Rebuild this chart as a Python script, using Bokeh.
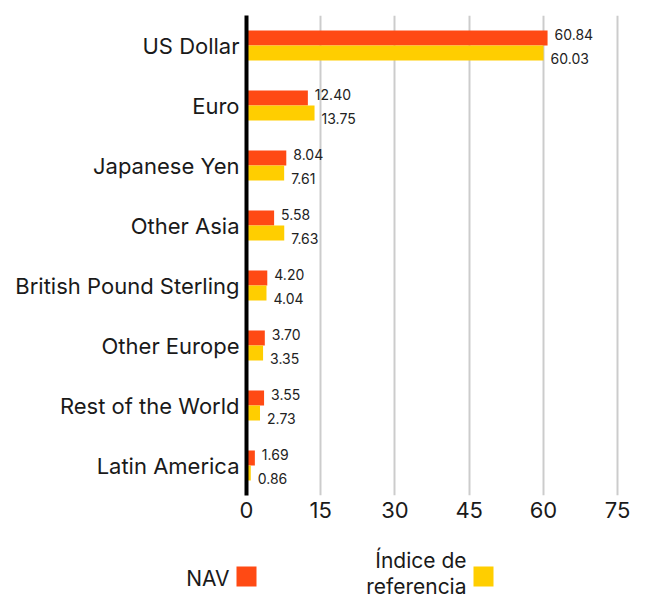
from bokeh.plotting import figure
from bokeh.layouts import column
from bokeh.models import ColumnDataSource, FactorRange, Range1d, FixedTicker
from bokeh.transform import dodge
from bokeh.core.properties import value
from bokeh.embed import file_html
from bokeh.resources import INLINE

categories = ["US Dollar", "Euro", "Japanese Yen", "Other Asia",
              "British Pound Sterling", "Other Europe", "Rest of the World", "Latin America"]
nav = [60.84, 12.40, 8.04, 5.58, 4.20, 3.70, 3.55, 1.69]
benchmark = [60.03, 13.75, 7.61, 7.63, 4.04, 3.35, 2.73, 0.86]
x_ticks = [0, 15, 30, 45, 60, 75]
series_names = ["NAV", "Índice de\nreferencia"]
colors = ["#FF4A14", "#FFCE00"]

FONT = "Inter"

src = ColumnDataSource(dict(
    cat=categories, nav=nav, bench=benchmark,
    nav_lbl=[f"{v:.2f}" for v in nav],
    bench_lbl=[f"{v:.2f}" for v in benchmark],
))

p = figure(width=646, height=540, output_backend="svg", toolbar_location=None,
           y_range=FactorRange(factors=list(reversed(categories))),
           x_range=Range1d(0, 77.6),
           min_border_left=246, min_border_right=16, min_border_top=15, min_border_bottom=45)
p.outline_line_color = None
p.frame_align = False

p.hbar(y=dodge("cat", 0.125, range=p.y_range), left=0, right="nav", height=0.25,
       source=src, color=colors[0], line_color=None)
p.hbar(y=dodge("cat", -0.125, range=p.y_range), left=0, right="bench", height=0.25,
       source=src, color=colors[1], line_color=None)

p.text(x="nav", y=dodge("cat", 0.125, range=p.y_range), text="nav_lbl", source=src,
       x_offset=7, y_offset=-4, text_baseline="middle", text_align="left",
       text_font=value(FONT), text_font_size="14px", text_color="#222222")
p.text(x="bench", y=dodge("cat", -0.125, range=p.y_range), text="bench_lbl", source=src,
       x_offset=7, y_offset=5, text_baseline="middle", text_align="left",
       text_font=value(FONT), text_font_size="14px", text_color="#222222")

p.xaxis.ticker = FixedTicker(ticks=x_ticks)
p.xaxis.axis_line_color = None
p.xaxis.major_tick_line_color = None
p.xaxis.minor_tick_line_color = None
p.xaxis.major_label_text_font = FONT
p.xaxis.major_label_text_font_size = "22px"
p.xaxis.major_label_text_color = "#1a1a1a"
p.xaxis.major_label_standoff = 0

p.yaxis.axis_line_color = "black"
p.yaxis.axis_line_width = 4
p.yaxis.major_tick_line_color = None
p.yaxis.minor_tick_line_color = None
p.yaxis.major_label_text_font = FONT
p.yaxis.major_label_text_font_size = "22px"
p.yaxis.major_label_text_color = "#1a1a1a"
p.yaxis.major_label_standoff = 1

p.xgrid.grid_line_color = "#cccccc"
p.xgrid.grid_line_width = 2
p.ygrid.grid_line_color = None

# legend strip below the chart (page-pixel coordinates)
lg = figure(width=646, height=59, output_backend="svg", toolbar_location=None,
            x_range=Range1d(0, 646), y_range=Range1d(599, 540),
            min_border=0, min_border_left=0, min_border_right=0,
            min_border_top=0, min_border_bottom=0)
lg.frame_align = False
lg.axis.visible = False
lg.grid.grid_line_color = None
lg.outline_line_color = None
leg = ColumnDataSource(dict(
    tx=[229, 466], ty=[565, 547], label=series_names,
    sx=[246, 483], sy=[576, 576], color=colors,
))
lg.text(x="tx", y="ty", text="label", source=leg, text_align="right", text_baseline="top",
        text_font=value(FONT), text_font_size="21px", text_color="#1a1a1a",
        text_line_height=1.05)
lg.rect(x="sx", y="sy", width=20, height=20, width_units="screen", height_units="screen",
        source=leg, fill_color="color", line_color=None)

layout = column(p, lg, spacing=0)
open("out.html", "w").write(file_html(layout, INLINE))
